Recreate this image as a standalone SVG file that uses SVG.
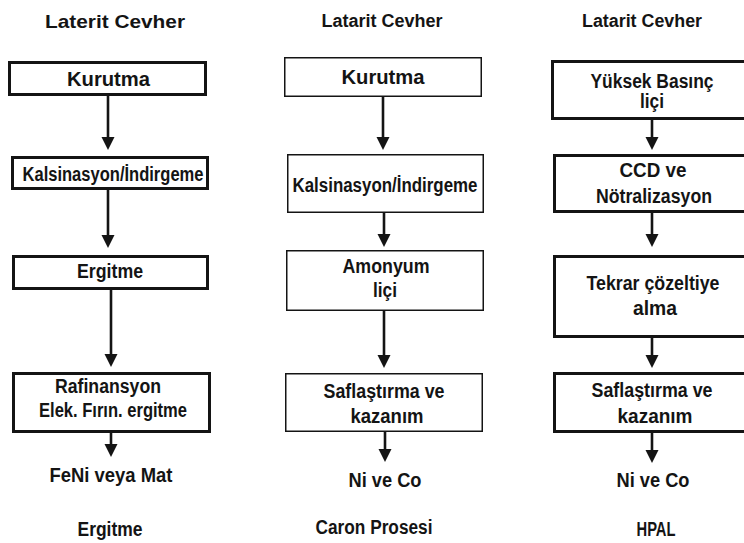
<svg xmlns="http://www.w3.org/2000/svg" width="744" height="543" viewBox="0 0 744 543">
<style>
text{font-family:"Liberation Sans",Arial,sans-serif;font-weight:bold;font-size:20px;fill:#141414;text-anchor:middle}
text.title{font-size:18px}
.thick{fill:#fff;stroke:#141414;stroke-width:3}
.thin{fill:#fff;stroke:#141414;stroke-width:1.5}
.arr{stroke:#141414;stroke-width:2.6;fill:none;marker-end:url(#ah)}
</style>
<defs>
<marker id="ah" markerUnits="userSpaceOnUse" markerWidth="14" markerHeight="14" refX="6" refY="6.5" orient="auto">
<path d="M0,0 L13,6.5 L0,13 z" fill="#141414"/>
</marker>
</defs>
<rect width="744" height="543" fill="#fff"/>

<g id="col1-title"><text class="title" x="115" y="28" textLength="140" lengthAdjust="spacingAndGlyphs" style="font-size:19px">Laterit Cevher</text></g>
<g id="c1-kurutma"><rect class="thick" x="9.5" y="62.5" width="196" height="32"/><text x="108.5" y="86" textLength="83" lengthAdjust="spacingAndGlyphs">Kurutma</text></g>
<g id="c1-kalsinasyon"><rect class="thick" x="12.5" y="157.5" width="195" height="31"/><text x="113" y="181" textLength="181" lengthAdjust="spacingAndGlyphs">Kalsinasyon/İndirgeme</text></g>
<g id="c1-ergitme"><rect class="thick" x="13.5" y="256.5" width="194" height="32"/><text x="110" y="278" textLength="66" lengthAdjust="spacingAndGlyphs">Ergitme</text></g>
<g id="c1-rafinansyon"><rect class="thick" x="13.5" y="373.5" width="196" height="58"/><text x="108" y="393" textLength="106" lengthAdjust="spacingAndGlyphs">Rafinansyon</text><text x="113" y="417" textLength="148" lengthAdjust="spacingAndGlyphs">Elek. Fırın. ergitme</text></g>
<g id="c1-out"><text x="111" y="482" textLength="123" lengthAdjust="spacingAndGlyphs">FeNi veya Mat</text></g>
<g id="c1-label"><text x="110" y="536" textLength="65" lengthAdjust="spacingAndGlyphs">Ergitme</text></g>

<g id="col2-title"><text class="title" x="382" y="27" textLength="121" lengthAdjust="spacingAndGlyphs">Latarit Cevher</text></g>
<g id="c2-kurutma"><rect class="thin" x="284.75" y="57.75" width="196.5" height="38.5"/><text x="383" y="84" textLength="83" lengthAdjust="spacingAndGlyphs">Kurutma</text></g>
<g id="c2-kalsinasyon"><rect class="thin" x="287.75" y="154.75" width="195.5" height="57.5"/><text x="385" y="192" textLength="185" lengthAdjust="spacingAndGlyphs">Kalsinasyon/İndirgeme</text></g>
<g id="c2-amonyum"><rect class="thin" x="286.75" y="250.75" width="196.5" height="59.5"/><text x="386" y="273" textLength="87" lengthAdjust="spacingAndGlyphs">Amonyum</text><text x="385" y="297" textLength="24" lengthAdjust="spacingAndGlyphs">liçi</text></g>
<g id="c2-saflastirma"><rect class="thin" x="285.75" y="373.75" width="196.5" height="57.5"/><text x="384" y="398" textLength="121" lengthAdjust="spacingAndGlyphs">Saflaştırma ve</text><text x="387" y="423" textLength="73" lengthAdjust="spacingAndGlyphs">kazanım</text></g>
<g id="c2-out"><text x="385" y="487" textLength="73" lengthAdjust="spacingAndGlyphs">Ni ve Co</text></g>
<g id="c2-label"><text x="374" y="534" textLength="117" lengthAdjust="spacingAndGlyphs">Caron Prosesi</text></g>

<g id="col3-title"><text class="title" x="642" y="27" textLength="120" lengthAdjust="spacingAndGlyphs">Latarit Cevher</text></g>
<g id="c3-yuksek"><rect class="thick" x="552.5" y="61.5" width="210" height="57"/><text x="652" y="88" textLength="123" lengthAdjust="spacingAndGlyphs">Yüksek Basınç</text><text x="652" y="108" textLength="24" lengthAdjust="spacingAndGlyphs">liçi</text></g>
<g id="c3-ccd"><rect class="thick" x="554.5" y="155.5" width="210" height="56"/><text x="653" y="177" textLength="67" lengthAdjust="spacingAndGlyphs">CCD ve</text><text x="654" y="203" textLength="116" lengthAdjust="spacingAndGlyphs">Nötralizasyon</text></g>
<g id="c3-tekrar"><rect class="thick" x="554.5" y="256.5" width="210" height="80"/><text x="653" y="290" textLength="133" lengthAdjust="spacingAndGlyphs">Tekrar çözeltiye</text><text x="655" y="315" textLength="44" lengthAdjust="spacingAndGlyphs">alma</text></g>
<g id="c3-saflastirma"><rect class="thick" x="554.5" y="373.5" width="210" height="58"/><text x="652" y="397" textLength="121" lengthAdjust="spacingAndGlyphs">Saflaştırma ve</text><text x="655" y="423" textLength="75" lengthAdjust="spacingAndGlyphs">kazanım</text></g>
<g id="c3-out"><text x="653" y="487" textLength="73" lengthAdjust="spacingAndGlyphs">Ni ve Co</text></g>
<g id="c3-label"><text x="656" y="536" textLength="39" lengthAdjust="spacingAndGlyphs">HPAL</text></g>

<g id="connectors">
<path class="arr" d="M108,96 V143"/>
<path class="arr" d="M108,190 V241"/>
<path class="arr" d="M111,290 V360"/>
<path class="arr" d="M111,433 V450"/>
<path class="arr" d="M383,97 V143"/>
<path class="arr" d="M384,213 V240"/>
<path class="arr" d="M384,311 V361"/>
<path class="arr" d="M385,432 V455"/>
<path class="arr" d="M652,120 V143"/>
<path class="arr" d="M652,213 V240"/>
<path class="arr" d="M652,338 V361"/>
<path class="arr" d="M652,433 V456"/>
</g>
</svg>
